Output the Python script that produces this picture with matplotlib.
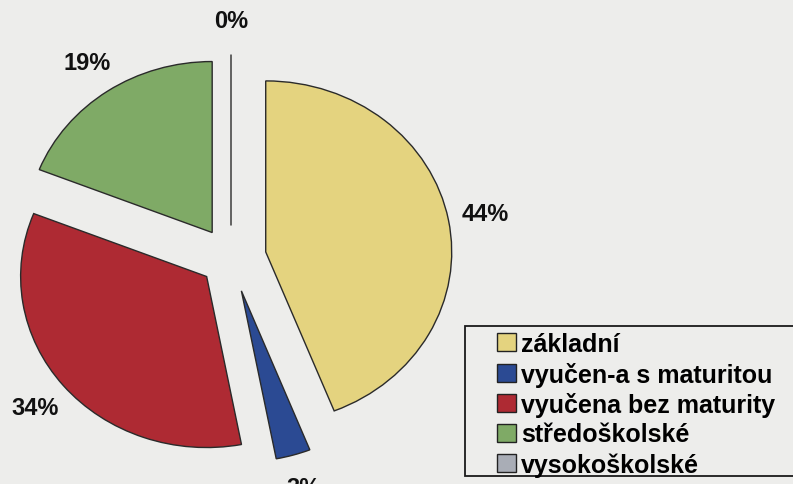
import matplotlib
matplotlib.use("Agg")
import matplotlib.pyplot as plt
from matplotlib.patches import Patch, Rectangle

categories = ["základní", "vyučen-a s maturitou", "vyučena bez maturity",
              "středoškolské", "vysokoškolské"]
values = [44, 3, 34, 19, 0]
colors = ["#E4D37F", "#2B4A93", "#AE2A33", "#7FAA66", "#A9ADB6"]
explode = [0.19, 0.2, 0.17, 0.18, 0.19]

bg = "#EDEDEB"
W, H = 793, 485
fig = plt.figure(figsize=(W / 100, H / 100), dpi=100, facecolor=bg)
ax = fig.add_axes([0, 0, 1, 1])
ax.set_facecolor(bg)

cx, cy, rx, ry = 231, 259, 186, 171  # pixel geometry of the (elliptical) pie

wedges, texts, autotexts = ax.pie(
    values, colors=colors, explode=explode, startangle=90, counterclock=False,
    autopct="%1.0f%%", pctdistance=1.2,
    wedgeprops=dict(edgecolor="#2a2a2a", linewidth=1.0),
    textprops=dict(fontsize=17, fontweight="bold", color="#111111",
                   family="Liberation Sans"),
)
ax.set_aspect("auto")
ax.set_xlim(-cx / rx, (W - cx) / rx)
ax.set_ylim(-(H - cy) / ry, cy / ry)
ax.axis("off")

# legend frame (extends past the right edge like the reference)
fig.patches.append(Rectangle((465 / W, 1 - 477 / H), 400 / W, 150 / H,
                             transform=fig.transFigure, facecolor=bg,
                             edgecolor="#1a1a1a", linewidth=1.3, zorder=2))

handles = [Patch(facecolor=c, edgecolor="#222222", linewidth=1.0) for c in colors]
leg = fig.legend(handles, categories, loc="upper left",
                 bbox_to_anchor=(497 / W, 1 - 333 / H),
                 frameon=False,
                 prop=dict(family="Liberation Sans", weight="bold", size=18),
                 handlelength=0.75, handleheight=0.75, handletextpad=0.2,
                 labelspacing=0.22, borderpad=0.0, borderaxespad=0.0)
leg.set_zorder(3)

fig.savefig("out.png", dpi=100, facecolor=bg)
